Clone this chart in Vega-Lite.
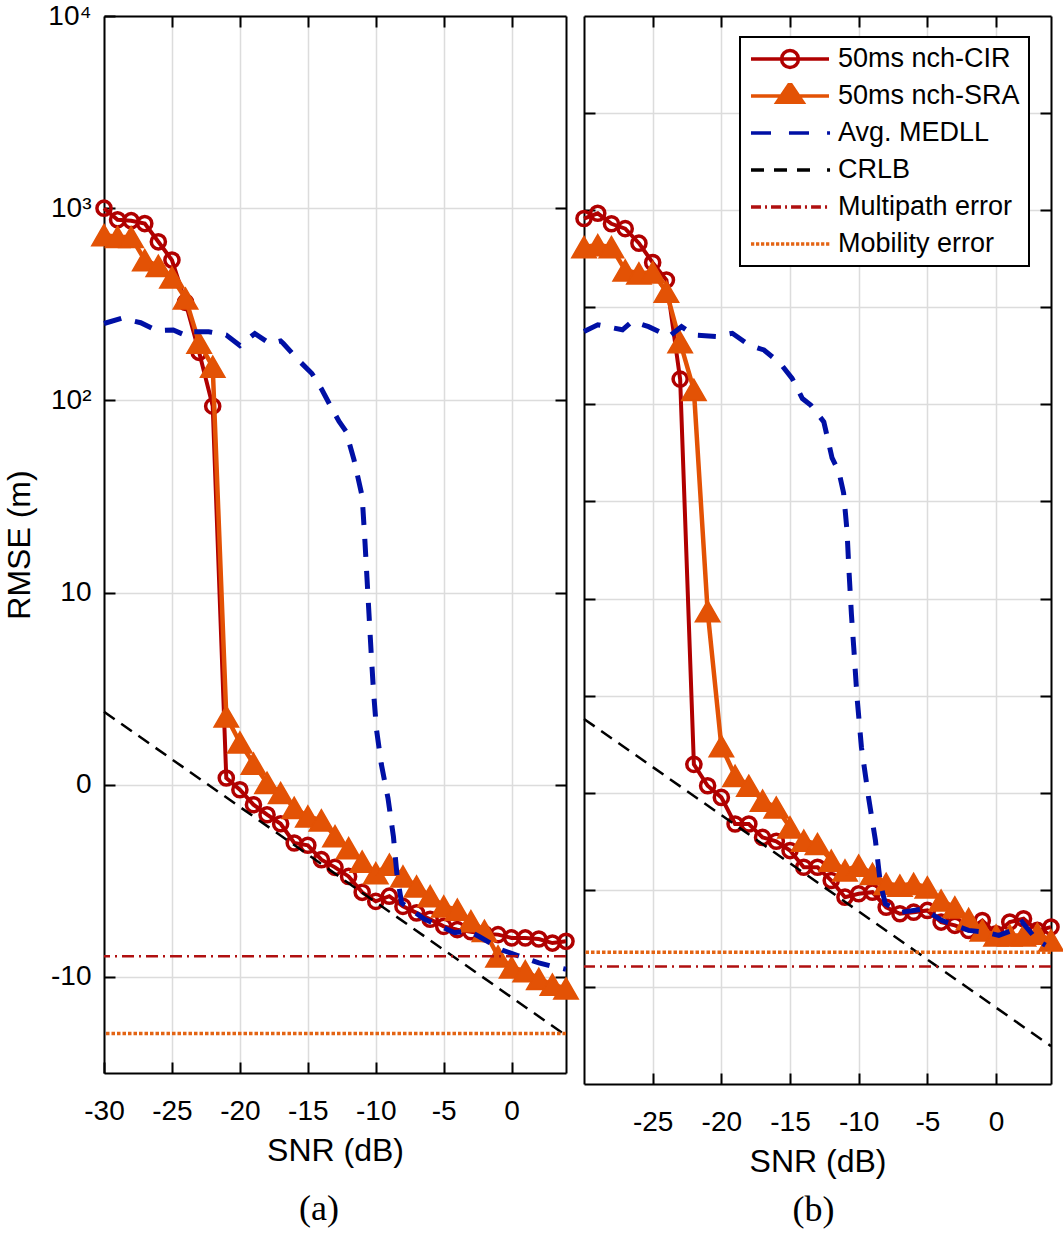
{
"$schema": "https://vega.github.io/schema/vega-lite/v6.json",
"background": "white",
"padding": {"left": 3, "top": 2, "right": 5, "bottom": 5},
"spacing": -14,
"datasets": {
"a": [
{"s":"50ms nch-CIR","x":-30,"y":30.0},{"s":"50ms nch-CIR","x":-29,"y":29.4},{"s":"50ms nch-CIR","x":-28,"y":29.35},{"s":"50ms nch-CIR","x":-27,"y":29.2},{"s":"50ms nch-CIR","x":-26,"y":28.25},{"s":"50ms nch-CIR","x":-25,"y":27.3},{"s":"50ms nch-CIR","x":-24,"y":25.1},{"s":"50ms nch-CIR","x":-23,"y":22.5},{"s":"50ms nch-CIR","x":-22,"y":19.7},{"s":"50ms nch-CIR","x":-21,"y":0.35},{"s":"50ms nch-CIR","x":-20,"y":-0.26},{"s":"50ms nch-CIR","x":-19,"y":-1.04},{"s":"50ms nch-CIR","x":-18,"y":-1.56},{"s":"50ms nch-CIR","x":-17,"y":-2.03},{"s":"50ms nch-CIR","x":-16,"y":-3.03},{"s":"50ms nch-CIR","x":-15,"y":-3.15},{"s":"50ms nch-CIR","x":-14,"y":-3.9},{"s":"50ms nch-CIR","x":-13,"y":-4.3},{"s":"50ms nch-CIR","x":-12,"y":-4.77},{"s":"50ms nch-CIR","x":-11,"y":-5.6},{"s":"50ms nch-CIR","x":-10,"y":-6.07},{"s":"50ms nch-CIR","x":-9,"y":-5.8},{"s":"50ms nch-CIR","x":-8,"y":-6.33},{"s":"50ms nch-CIR","x":-7,"y":-6.67},{"s":"50ms nch-CIR","x":-6,"y":-7.0},{"s":"50ms nch-CIR","x":-5,"y":-7.37},{"s":"50ms nch-CIR","x":-4,"y":-7.54},{"s":"50ms nch-CIR","x":-3,"y":-7.65},{"s":"50ms nch-CIR","x":-2,"y":-7.75},{"s":"50ms nch-CIR","x":-1,"y":-7.8},{"s":"50ms nch-CIR","x":0,"y":-7.97},{"s":"50ms nch-CIR","x":1,"y":-7.97},{"s":"50ms nch-CIR","x":2,"y":-8.03},{"s":"50ms nch-CIR","x":3,"y":-8.24},{"s":"50ms nch-CIR","x":4,"y":-8.15},
{"s":"50ms nch-SRA","x":-30,"y":28.6},{"s":"50ms nch-SRA","x":-29,"y":28.5},{"s":"50ms nch-SRA","x":-28,"y":28.5},{"s":"50ms nch-SRA","x":-27,"y":27.3},{"s":"50ms nch-SRA","x":-26,"y":27.0},{"s":"50ms nch-SRA","x":-25,"y":26.4},{"s":"50ms nch-SRA","x":-24,"y":25.3},{"s":"50ms nch-SRA","x":-23,"y":23.0},{"s":"50ms nch-SRA","x":-22,"y":21.75},{"s":"50ms nch-SRA","x":-21,"y":3.55},{"s":"50ms nch-SRA","x":-20,"y":2.2},{"s":"50ms nch-SRA","x":-19,"y":1.1},{"s":"50ms nch-SRA","x":-18,"y":0.1},{"s":"50ms nch-SRA","x":-17,"y":-0.43},{"s":"50ms nch-SRA","x":-16,"y":-1.2},{"s":"50ms nch-SRA","x":-15,"y":-1.65},{"s":"50ms nch-SRA","x":-14,"y":-1.85},{"s":"50ms nch-SRA","x":-13,"y":-2.68},{"s":"50ms nch-SRA","x":-12,"y":-3.3},{"s":"50ms nch-SRA","x":-11,"y":-4.0},{"s":"50ms nch-SRA","x":-10,"y":-4.6},{"s":"50ms nch-SRA","x":-9,"y":-4.16},{"s":"50ms nch-SRA","x":-8,"y":-4.77},{"s":"50ms nch-SRA","x":-7,"y":-5.29},{"s":"50ms nch-SRA","x":-6,"y":-5.8},{"s":"50ms nch-SRA","x":-5,"y":-6.33},{"s":"50ms nch-SRA","x":-4,"y":-6.5},{"s":"50ms nch-SRA","x":-3,"y":-7.1},{"s":"50ms nch-SRA","x":-2,"y":-7.6},{"s":"50ms nch-SRA","x":-1,"y":-8.93},{"s":"50ms nch-SRA","x":0,"y":-9.5},{"s":"50ms nch-SRA","x":1,"y":-9.7},{"s":"50ms nch-SRA","x":2,"y":-10.1},{"s":"50ms nch-SRA","x":3,"y":-10.4},{"s":"50ms nch-SRA","x":4,"y":-10.6},
{"s":"Avg. MEDLL","x":-30,"y":24.0},{"s":"Avg. MEDLL","x":-28.7,"y":24.27},{"s":"Avg. MEDLL","x":-27.3,"y":24.04},{"s":"Avg. MEDLL","x":-26.1,"y":23.63},{"s":"Avg. MEDLL","x":-24.9,"y":23.66},{"s":"Avg. MEDLL","x":-23.9,"y":23.35},{"s":"Avg. MEDLL","x":-23.5,"y":23.57},{"s":"Avg. MEDLL","x":-22.3,"y":23.57},{"s":"Avg. MEDLL","x":-21,"y":23.4},{"s":"Avg. MEDLL","x":-20,"y":22.85},{"s":"Avg. MEDLL","x":-18.9,"y":23.48},{"s":"Avg. MEDLL","x":-17.8,"y":22.96},{"s":"Avg. MEDLL","x":-17,"y":23.09},{"s":"Avg. MEDLL","x":-16.8,"y":22.96},{"s":"Avg. MEDLL","x":-15.7,"y":22.1},{"s":"Avg. MEDLL","x":-14.7,"y":21.4},{"s":"Avg. MEDLL","x":-14,"y":20.6},{"s":"Avg. MEDLL","x":-13.4,"y":19.8},{"s":"Avg. MEDLL","x":-12.7,"y":18.9},{"s":"Avg. MEDLL","x":-12.2,"y":18.4},{"s":"Avg. MEDLL","x":-11.6,"y":16.9},{"s":"Avg. MEDLL","x":-11.0,"y":15.0},{"s":"Avg. MEDLL","x":-10.8,"y":12.7},{"s":"Avg. MEDLL","x":-10.65,"y":10.8},{"s":"Avg. MEDLL","x":-10.5,"y":8.9},{"s":"Avg. MEDLL","x":-10.35,"y":7.0},{"s":"Avg. MEDLL","x":-10.17,"y":4.9},{"s":"Avg. MEDLL","x":-9.95,"y":2.9},{"s":"Avg. MEDLL","x":-9.6,"y":1.1},{"s":"Avg. MEDLL","x":-9.1,"y":-0.7},{"s":"Avg. MEDLL","x":-8.7,"y":-2.7},{"s":"Avg. MEDLL","x":-8.45,"y":-4.6},{"s":"Avg. MEDLL","x":-8.1,"y":-6.15},{"s":"Avg. MEDLL","x":-6.4,"y":-7.0},{"s":"Avg. MEDLL","x":-4.2,"y":-7.7},{"s":"Avg. MEDLL","x":-3.2,"y":-7.6},{"s":"Avg. MEDLL","x":-2.4,"y":-7.9},{"s":"Avg. MEDLL","x":-0.7,"y":-8.6},{"s":"Avg. MEDLL","x":0.5,"y":-8.9},{"s":"Avg. MEDLL","x":2,"y":-9.27},{"s":"Avg. MEDLL","x":3,"y":-9.45},{"s":"Avg. MEDLL","x":4,"y":-9.6},
{"s":"CRLB","x":-30,"y":3.8},{"s":"CRLB","x":4,"y":-13.05},
{"s":"Multipath error","y":-8.93},
{"s":"Mobility error","y":-12.95}
],
"b": [
{"s":"50ms nch-CIR","x":-30,"y":29.57},{"s":"50ms nch-CIR","x":-29,"y":29.84},{"s":"50ms nch-CIR","x":-28,"y":29.3},{"s":"50ms nch-CIR","x":-27,"y":29.05},{"s":"50ms nch-CIR","x":-26,"y":28.3},{"s":"50ms nch-CIR","x":-25,"y":27.3},{"s":"50ms nch-CIR","x":-24,"y":26.4},{"s":"50ms nch-CIR","x":-23,"y":21.3},{"s":"50ms nch-CIR","x":-22,"y":1.46},{"s":"50ms nch-CIR","x":-21,"y":0.36},{"s":"50ms nch-CIR","x":-20,"y":-0.24},{"s":"50ms nch-CIR","x":-19,"y":-1.61},{"s":"50ms nch-CIR","x":-18,"y":-1.61},{"s":"50ms nch-CIR","x":-17,"y":-2.3},{"s":"50ms nch-CIR","x":-16,"y":-2.5},{"s":"50ms nch-CIR","x":-15,"y":-2.98},{"s":"50ms nch-CIR","x":-14,"y":-3.84},{"s":"50ms nch-CIR","x":-13,"y":-3.84},{"s":"50ms nch-CIR","x":-12,"y":-4.52},{"s":"50ms nch-CIR","x":-11,"y":-5.38},{"s":"50ms nch-CIR","x":-10,"y":-5.2},{"s":"50ms nch-CIR","x":-9,"y":-5.12},{"s":"50ms nch-CIR","x":-8,"y":-5.9},{"s":"50ms nch-CIR","x":-7,"y":-6.23},{"s":"50ms nch-CIR","x":-6,"y":-6.15},{"s":"50ms nch-CIR","x":-5,"y":-6.06},{"s":"50ms nch-CIR","x":-4,"y":-6.66},{"s":"50ms nch-CIR","x":-3,"y":-6.83},{"s":"50ms nch-CIR","x":-2,"y":-7.09},{"s":"50ms nch-CIR","x":-1,"y":-6.58},{"s":"50ms nch-CIR","x":0,"y":-7.26},{"s":"50ms nch-CIR","x":1,"y":-6.66},{"s":"50ms nch-CIR","x":2,"y":-6.49},{"s":"50ms nch-CIR","x":3,"y":-7.09},{"s":"50ms nch-CIR","x":4,"y":-6.92},
{"s":"50ms nch-SRA","x":-30,"y":28.1},{"s":"50ms nch-SRA","x":-29,"y":28.2},{"s":"50ms nch-SRA","x":-28,"y":28.1},{"s":"50ms nch-SRA","x":-27,"y":26.9},{"s":"50ms nch-SRA","x":-26,"y":26.75},{"s":"50ms nch-SRA","x":-25,"y":26.8},{"s":"50ms nch-SRA","x":-24,"y":25.8},{"s":"50ms nch-SRA","x":-23,"y":23.2},{"s":"50ms nch-SRA","x":-22,"y":20.75},{"s":"50ms nch-SRA","x":-21,"y":9.35},{"s":"50ms nch-SRA","x":-20,"y":2.4},{"s":"50ms nch-SRA","x":-19,"y":0.87},{"s":"50ms nch-SRA","x":-18,"y":0.36},{"s":"50ms nch-SRA","x":-17,"y":-0.41},{"s":"50ms nch-SRA","x":-16,"y":-0.76},{"s":"50ms nch-SRA","x":-15,"y":-1.78},{"s":"50ms nch-SRA","x":-14,"y":-2.47},{"s":"50ms nch-SRA","x":-13,"y":-2.64},{"s":"50ms nch-SRA","x":-12,"y":-3.5},{"s":"50ms nch-SRA","x":-11,"y":-4.0},{"s":"50ms nch-SRA","x":-10,"y":-3.75},{"s":"50ms nch-SRA","x":-9,"y":-4.18},{"s":"50ms nch-SRA","x":-8,"y":-4.69},{"s":"50ms nch-SRA","x":-7,"y":-4.78},{"s":"50ms nch-SRA","x":-6,"y":-4.69},{"s":"50ms nch-SRA","x":-5,"y":-4.87},{"s":"50ms nch-SRA","x":-4,"y":-5.55},{"s":"50ms nch-SRA","x":-3,"y":-5.9},{"s":"50ms nch-SRA","x":-2,"y":-6.5},{"s":"50ms nch-SRA","x":-1,"y":-7.09},{"s":"50ms nch-SRA","x":0,"y":-7.35},{"s":"50ms nch-SRA","x":1,"y":-7.35},{"s":"50ms nch-SRA","x":2,"y":-7.35},{"s":"50ms nch-SRA","x":3,"y":-7.26},{"s":"50ms nch-SRA","x":4,"y":-7.6},
{"s":"Avg. MEDLL","x":-30,"y":23.75},{"s":"Avg. MEDLL","x":-29,"y":24.1},{"s":"Avg. MEDLL","x":-27.2,"y":23.84},{"s":"Avg. MEDLL","x":-26.5,"y":24.27},{"s":"Avg. MEDLL","x":-25.3,"y":24.0},{"s":"Avg. MEDLL","x":-23.8,"y":23.5},{"s":"Avg. MEDLL","x":-22.9,"y":24.0},{"s":"Avg. MEDLL","x":-22,"y":23.57},{"s":"Avg. MEDLL","x":-20.4,"y":23.5},{"s":"Avg. MEDLL","x":-19.2,"y":23.66},{"s":"Avg. MEDLL","x":-18,"y":23.06},{"s":"Avg. MEDLL","x":-16.9,"y":22.8},{"s":"Avg. MEDLL","x":-15.7,"y":22.1},{"s":"Avg. MEDLL","x":-14.85,"y":21.34},{"s":"Avg. MEDLL","x":-14.1,"y":20.3},{"s":"Avg. MEDLL","x":-13.5,"y":19.97},{"s":"Avg. MEDLL","x":-12.54,"y":19.1},{"s":"Avg. MEDLL","x":-11.94,"y":17.24},{"s":"Avg. MEDLL","x":-11.45,"y":16.55},{"s":"Avg. MEDLL","x":-11.1,"y":15.44},{"s":"Avg. MEDLL","x":-10.85,"y":13.47},{"s":"Avg. MEDLL","x":-10.72,"y":11.58},{"s":"Avg. MEDLL","x":-10.53,"y":9.18},{"s":"Avg. MEDLL","x":-10.36,"y":7.47},{"s":"Avg. MEDLL","x":-10.12,"y":4.9},{"s":"Avg. MEDLL","x":-9.8,"y":2.33},{"s":"Avg. MEDLL","x":-9.45,"y":0.6},{"s":"Avg. MEDLL","x":-9.27,"y":-0.3},{"s":"Avg. MEDLL","x":-8.78,"y":-2.47},{"s":"Avg. MEDLL","x":-8.42,"y":-4.69},{"s":"Avg. MEDLL","x":-8.06,"y":-5.72},{"s":"Avg. MEDLL","x":-6.84,"y":-6.15},{"s":"Avg. MEDLL","x":-5.26,"y":-5.98},{"s":"Avg. MEDLL","x":-3.93,"y":-6.58},{"s":"Avg. MEDLL","x":-2,"y":-7.09},{"s":"Avg. MEDLL","x":-0.77,"y":-7.18},{"s":"Avg. MEDLL","x":0.2,"y":-7.35},{"s":"Avg. MEDLL","x":1.17,"y":-7.09},{"s":"Avg. MEDLL","x":1.9,"y":-6.66},{"s":"Avg. MEDLL","x":3.0,"y":-7.6},{"s":"Avg. MEDLL","x":3.6,"y":-7.85},
{"s":"CRLB","x":-30,"y":3.8},{"s":"CRLB","x":4,"y":-13.05},
{"s":"Multipath error","y":-8.95},
{"s":"Mobility error","y":-8.21}
]
},
"hconcat": [
{
"width": 462, "height": 1057,
"data": {"name": "a"},
"title": {"text": "(a)", "orient": "bottom", "frame": "group", "dx": -16, "offset": 26},
"layer": [
{"transform": [{"filter": "datum.s == '50ms nch-CIR'"}],
 "mark": {"type": "line", "color": "#B00000", "strokeWidth": 4},
 "encoding": {
  "x": {"field": "x", "type": "quantitative", "scale": {"domain": [-30, 4], "nice": false, "zero": false},
        "axis": {"orient": "bottom", "values": [-30,-25,-20,-15,-10,-5,0], "title": "SNR (dB)", "labelExpr": "'' + datum.value", "grid": true, "labelPadding": 35, "titlePadding": 10}},
  "y": {"field": "y", "type": "quantitative", "scale": {"domain": [-15, 40], "nice": false, "zero": false},
        "axis": {"orient": "left", "values": [-10,0,10,20,30,40], "title": "RMSE (m)", "labelExpr": "datum.value == 40 ? '10⁴' : datum.value == 30 ? '10³' : datum.value == 20 ? '10²' : '' + datum.value", "grid": true, "labelPadding": 24, "titlePadding": 11}}
 }},
{"transform": [{"filter": "datum.s == '50ms nch-CIR'"}],
 "mark": {"type": "point", "shape": "circle", "filled": false, "color": "#B00000", "size": 200, "strokeWidth": 3.5, "opacity": 1},
 "encoding": {"x": {"field": "x", "type": "quantitative", "axis": null}, "y": {"field": "y", "type": "quantitative", "axis": null}}},
{"transform": [{"filter": "datum.s == '50ms nch-SRA'"}],
 "mark": {"type": "line", "color": "#E35205", "strokeWidth": 4.5},
 "encoding": {"x": {"field": "x", "type": "quantitative", "axis": null}, "y": {"field": "y", "type": "quantitative", "axis": null}}},
{"transform": [{"filter": "datum.s == '50ms nch-SRA'"}],
 "mark": {"type": "point", "shape": "triangle-up", "filled": true, "color": "#E35205", "stroke": "#E35205", "strokeWidth": 1.5, "size": 600, "opacity": 1},
 "encoding": {"x": {"field": "x", "type": "quantitative", "axis": null}, "y": {"field": "y", "type": "quantitative", "axis": null}}},
{"transform": [{"filter": "datum.s == 'Avg. MEDLL'"}],
 "mark": {"type": "line", "color": "#0010A5", "strokeWidth": 5, "strokeDash": [18, 14]},
 "encoding": {"x": {"field": "x", "type": "quantitative", "axis": null}, "y": {"field": "y", "type": "quantitative", "axis": null}}},
{"transform": [{"filter": "datum.s == 'CRLB'"}],
 "mark": {"type": "line", "color": "black", "strokeWidth": 2.5, "strokeDash": [13, 8]},
 "encoding": {
  "x": {"field": "x", "type": "quantitative", "axis": {"orient": "top", "values": [-25,-20,-15,-10,-5,0], "labels": false, "title": null, "grid": false}},
  "y": {"field": "y", "type": "quantitative", "axis": {"orient": "right", "values": [-10,0,10,20,30], "labels": false, "title": null, "grid": false}}
 }},
{"transform": [{"filter": "datum.s == 'Multipath error'"}],
 "mark": {"type": "rule", "color": "#B01010", "strokeWidth": 2.5, "strokeDash": [12, 5, 2, 5]},
 "encoding": {"y": {"field": "y", "type": "quantitative", "axis": null}}},
{"transform": [{"filter": "datum.s == 'Mobility error'"}],
 "mark": {"type": "rule", "color": "#E36414", "strokeWidth": 3.5, "strokeDash": [3.5, 2]},
 "encoding": {"y": {"field": "y", "type": "quantitative", "axis": null}}}
],
"resolve": {"axis": {"x": "independent", "y": "independent"}}
},
{
"width": 467, "height": 1068,
"data": {"name": "b"},
"title": {"text": "(b)", "orient": "bottom", "frame": "group", "dx": -4, "offset": 16},
"layer": [
{"transform": [{"filter": "datum.s == '50ms nch-CIR'"}],
 "mark": {"type": "line", "color": "#B00000", "strokeWidth": 4},
 "encoding": {
  "x": {"field": "x", "type": "quantitative", "scale": {"domain": [-30, 4], "nice": false, "zero": false},
        "axis": {"orient": "bottom", "values": [-25,-20,-15,-10,-5,0], "title": "SNR (dB)", "labelExpr": "'' + datum.value", "grid": true, "labelPadding": 35, "titlePadding": 10}},
  "y": {"field": "y", "type": "quantitative", "scale": {"domain": [-15, 40], "nice": false, "zero": false},
        "axis": {"orient": "left", "values": [-10,-5,0,5,10,15,20,25,30,35], "labels": false, "title": null, "grid": true}}
 }},
{"transform": [{"filter": "datum.s == '50ms nch-CIR'"}],
 "mark": {"type": "point", "shape": "circle", "filled": false, "color": "#B00000", "size": 200, "strokeWidth": 3.5, "opacity": 1},
 "encoding": {"x": {"field": "x", "type": "quantitative", "axis": null}, "y": {"field": "y", "type": "quantitative", "axis": null}}},
{"transform": [{"filter": "datum.s == '50ms nch-SRA'"}],
 "mark": {"type": "line", "color": "#E35205", "strokeWidth": 4.5},
 "encoding": {"x": {"field": "x", "type": "quantitative", "axis": null}, "y": {"field": "y", "type": "quantitative", "axis": null}}},
{"transform": [{"filter": "datum.s == '50ms nch-SRA'"}],
 "mark": {"type": "point", "shape": "triangle-up", "filled": true, "color": "#E35205", "stroke": "#E35205", "strokeWidth": 1.5, "size": 600, "opacity": 1},
 "encoding": {"x": {"field": "x", "type": "quantitative", "axis": null}, "y": {"field": "y", "type": "quantitative", "axis": null}}},
{"transform": [{"filter": "datum.s == 'Avg. MEDLL'"}],
 "mark": {"type": "line", "color": "#0010A5", "strokeWidth": 5, "strokeDash": [18, 14]},
 "encoding": {"x": {"field": "x", "type": "quantitative", "axis": null}, "y": {"field": "y", "type": "quantitative", "axis": null}}},
{"transform": [{"filter": "datum.s == 'CRLB'"}],
 "mark": {"type": "line", "color": "black", "strokeWidth": 2.5, "strokeDash": [13, 8]},
 "encoding": {
  "x": {"field": "x", "type": "quantitative", "axis": {"orient": "top", "values": [-25,-20,-15,-10,-5,0], "labels": false, "title": null, "grid": false}},
  "y": {"field": "y", "type": "quantitative", "axis": {"orient": "right", "values": [-10,-5,0,5,10,15,20,25,30,35], "labels": false, "title": null, "grid": false}}
 }},
{"transform": [{"filter": "datum.s == 'Multipath error'"}],
 "mark": {"type": "rule", "color": "#B01010", "strokeWidth": 2.5, "strokeDash": [12, 5, 2, 5]},
 "encoding": {"y": {"field": "y", "type": "quantitative", "axis": null}}},
{"transform": [{"filter": "datum.s == 'Mobility error'"}],
 "mark": {"type": "rule", "color": "#E36414", "strokeWidth": 3.5, "strokeDash": [3.5, 2]},
 "encoding": {"y": {"field": "y", "type": "quantitative", "axis": null}}},
{"mark": {"type": "point", "opacity": 0, "filled": false, "size": 10},
 "encoding": {
  "x": {"field": "x", "type": "quantitative", "axis": null},
  "y": {"field": "y", "type": "quantitative", "axis": null},
  "color": {"field": "s", "type": "nominal",
    "scale": {"domain": ["50ms nch-CIR","50ms nch-SRA","Avg. MEDLL","CRLB","Multipath error","Mobility error"],
              "range": ["#B00000","#E35205","#0010A5","black","#B01010","#E36414"]},
    "legend": {"title": null, "orient": "none", "legendX": 156, "legendY": 21}},
  "shape": {"field": "s", "type": "nominal",
    "scale": {"domain": ["50ms nch-CIR","50ms nch-SRA","Avg. MEDLL","CRLB","Multipath error","Mobility error"],
              "range": [
                "M-1,0H5M1.35,0A0.65,0.65,0,1,1,2.65,0A0.65,0.65,0,1,1,1.35,0",
                "M-1,0H5M2,-1L3,0.48L1,0.48ZM2,-0.7L2.7,0.34L1.3,0.34ZM2,-0.4L2.4,0.19L1.6,0.19ZM2,-0.12L2.12,0.06L1.88,0.06Z",
                "M-1,0H0.54M1.92,0H3.46M4.85,0H5.08",
                "M-1,0H0M0.77,0H1.77M2.54,0H3.54M4.85,0H5.08",
                "M-1,0H-0.23M0.08,0H0.23M0.54,0H1.31M1.62,0H1.77M2.08,0H2.85M3.15,0H3.31M3.62,0H4.38M4.69,0H4.85",
                "M-1,0H-0.75M-0.615,0H-0.365M-0.23,0H0.02M0.155,0H0.405M0.54,0H0.79M0.925,0H1.175M1.31,0H1.56M1.695,0H1.945M2.08,0H2.33M2.465,0H2.715M2.85,0H3.1M3.235,0H3.485M3.62,0H3.87M4.005,0H4.255M4.39,0H4.64M4.775,0H5.025"
              ]},
    "legend": {"title": null, "orient": "none", "legendX": 156, "legendY": 21}}
 }}
],
"resolve": {"axis": {"x": "independent", "y": "independent"}}
}
],
"resolve": {"scale": {"color": "independent", "shape": "independent"}, "legend": {"color": "independent", "shape": "independent"}},
"config": {
 "view": {"stroke": null},
 "axis": {"domainColor": "black", "domainWidth": 2, "tickColor": "black", "tickWidth": 2, "tickSize": -11,
          "gridColor": "#dcdcdc", "gridWidth": 1.5,
          "labelFont": "Liberation Sans", "labelFontSize": 28, "labelColor": "black",
          "titleFont": "Liberation Sans", "titleFontSize": 32, "titleFontWeight": "normal", "titleColor": "black",
          "labelFlush": false, "labelOverlap": false, "labelBound": false},
 "legend": {"symbolSize": 676, "symbolStrokeWidth": 3.5, "symbolOpacity": 1,
            "labelFont": "Liberation Sans", "labelFontSize": 27, "labelColor": "black", "labelLimit": 400,
            "labelOffset": 59, "rowPadding": 10, "padding": 9, "clipHeight": 26,
            "strokeColor": "black", "strokeWidth": 2, "fillColor": "white"},
 "title": {"font": "Liberation Serif", "fontSize": 36, "fontWeight": "normal", "color": "black"}
}
}
